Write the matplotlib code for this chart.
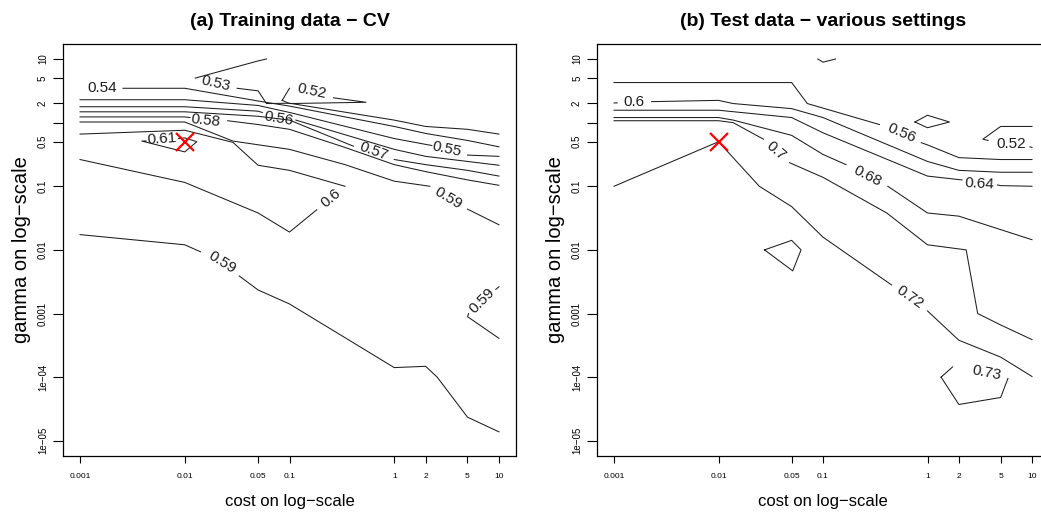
import matplotlib.pyplot as plt
import numpy as np

plt.rcParams['font.family'] = ['Liberation Sans', 'DejaVu Sans']

nan = np.nan

# axis ticks (grid values of the parameter search)
cost_ticks = [0.001, 0.01, 0.05, 0.1, 1, 2, 5, 10]
cost_labels = ['0.001', '0.01', '0.05', '0.1', '1', '2', '5', '10']
gamma_ticks = [1e-5, 1e-4, 1e-3, 0.01, 0.1, 0.5, 1, 2, 5, 10]
gamma_labels = ['1e−05', '1e−04', '0.001', '0.01', '0.1', '0.5', '', '2', '5', '10']

best = (0.01, 0.5)  # selected (cost, gamma), red cross

# contour paths, as log10(cost) / log10(gamma)
# nan marks the gap where the level label sits

# (a) training data - CV
a053_x = [-1.22, -1.30, -1.90, nan, -1.50, -1.30, -1.22, -1.0, 0.0, 0.30, 0.70, 1.0]
a053_y = [1.0, 0.97, 0.70, nan, 0.54, 0.50, 0.30, 0.305, 0.04, -0.06, -0.105, -0.18]
a052_x = [-1.07, -1.0, nan, -0.58, -0.27, -1.0, -1.07]
a052_y = [0.35, 0.54, nan, 0.39, 0.32, 0.30, 0.35]
a054_x = [-2.59, -2.0, -1.30, -1.0, 0.0, 0.30, 0.70, 1.0]
a054_y = [0.54, 0.54, 0.34, 0.26, -0.06, -0.17, -0.28, -0.38]
a055_x = [-3.0, -2.0, -1.30, -1.0, 0.0, 0.36, nan, 0.70, 1.0]
a055_y = [0.36, 0.36, 0.27, 0.16, -0.25, -0.36, nan, -0.51, -0.53]
a056_x = [-3.0, -2.0, -1.30, -1.26, nan, -0.94, 0.0, 0.30, 0.70, 1.0]
a056_y = [0.25, 0.25, 0.18, 0.16, nan, 0.04, -0.42, -0.53, -0.61, -0.67]
a057_x = [-3.0, -2.0, -1.30, -1.0, -0.39, nan, 0.0, 0.30, 0.70, 1.0]
a057_y = [0.17, 0.17, 0.10, 0.04, -0.37, nan, -0.58, -0.66, -0.75, -0.84]
a058_x = [-3.0, -2.0, -1.95, nan, -1.59, -1.30, -1.0, -0.47, 0.0, 0.30, 0.70, 1.0]
a058_y = [0.09, 0.09, 0.08, nan, 0.03, -0.03, -0.105, -0.39, -0.66, -0.77, -0.90, -0.985]
a059_x = [-3.0, -2.0, -1.54, -1.0, -0.47, 0.0, 0.34, nan, 0.70, 1.0]
a059_y = [0.01, 0.01, -0.29, -0.42, -0.66, -0.92, -1.0, nan, -1.36, -1.605]
a060_x = [-3.0, -2.0, -1.30, -1.0, -0.74, nan, -0.47, -1.0, -1.30, -1.54, -2.0, -3.0]
a060_y = [-0.58, -0.94, -1.42, -1.72, -1.37, nan, -1.0, -0.75, -0.67, -0.31, -0.12, -0.18]
a061_x = [-2.06, -2.0, -1.885, -2.0, -2.41, -2.37]
a061_y = [-0.25, -0.24, -0.30, -0.46, -0.29, -0.287]
a059b_x = [-3.0, -2.0, -1.85, nan, -1.48, -1.30, -1.0, 0.0, 0.30, 0.41, 0.70, 1.0]
a059b_y = [-1.76, -1.92, -2.03, nan, -2.41, -2.63, -2.85, -3.85, -3.83, -4.0, -4.63, -4.86]
a059c_x = [1.0, 0.97, nan, 0.71, 0.70, 1.0]
a059c_y = [-2.58, -2.62, nan, -3.0, -3.05, -3.39]

a_paths = [(a053_x, a053_y), (a052_x, a052_y), (a054_x, a054_y), (a055_x, a055_y),
           (a056_x, a056_y), (a057_x, a057_y), (a058_x, a058_y), (a059_x, a059_y),
           (a060_x, a060_y), (a061_x, a061_y), (a059b_x, a059b_y), (a059c_x, a059c_y)]
# label text, log10 cost, log10 gamma, angle
a_labels = [('0.54', -2.79, 0.54, 0), ('0.53', -1.70, 0.61, -13), ('0.52', -0.79, 0.495, -12),
            ('0.56', -1.10, 0.07, -10), ('0.58', -1.80, 0.04, -6), ('0.57', -0.20, -0.45, -20),
            ('0.55', 0.505, -0.42, -12), ('0.59', 0.515, -1.18, -31), ('0.6', -0.60, -1.18, 40),
            ('0.61', -2.22, -0.26, 4), ('0.59', -1.64, -2.20, -32), ('0.59', 0.84, -2.80, 45)]

# (b) test data - various settings
b056_x = [-3.0, -1.30, -1.15, -0.46, nan, -0.06, 0.0, 0.30, 0.70, 1.0]
b056_y = [0.63, 0.63, 0.30, -0.03, nan, -0.315, -0.35, -0.55, -0.58, -0.58]
b060_x = [-3.0, -2.97, nan, -2.64, -2.0, -1.86, -1.30, -1.0, 0.0, 0.30, 0.70, 1.0]
b060_y = [0.31, 0.31, nan, 0.33, 0.35, 0.30, 0.22, 0.08, -0.61, -0.75, -0.78, -0.78]
b064_x = [-3.0, -2.0, -1.30, -1.0, 0.0, 0.30, 0.33, nan, 0.67, 0.70, 1.0]
b064_y = [0.195, 0.195, 0.08, -0.16, -0.84, -0.895, -0.90, nan, -0.98, -0.99, -1.0]
b068_x = [-3.0, -2.0, -1.86, -1.30, -1.0, -0.78, nan, -0.38, 0.0, 0.30, 1.0]
b068_y = [0.08, 0.08, 0.04, -0.20, -0.50, -0.66, nan, -1.0, -1.42, -1.47, -1.84]
b070_x = [-3.0, -2.0, -1.86, -1.57, nan, -1.32, -1.0, -0.39, 0.0, 0.37, 0.48, 0.70, 1.0]
b070_y = [0.03, 0.03, 0.0, -0.26, nan, -0.63, -0.86, -1.42, -1.92, -2.0, -3.0, -3.18, -3.41]
b072_x = [-3.0, -2.0, -1.61, -1.30, -1.0, -0.345, nan, 0.0, 0.30, 0.70, 1.0]
b072_y = [-1.0, -0.30, -1.0, -1.32, -1.80, -2.55, nan, -2.96, -3.42, -3.685, -3.99]
b052_x = [1.0, 0.70, 0.53, 0.58, nan, 0.98, 1.0]
b052_y = [-0.06, -0.06, -0.26, -0.28, nan, -0.38, -0.39]
b_diam_x = [-0.12, 0.0, 0.21, 0.0, -0.12]
b_diam_y = [0.01, 0.116, 0.01, -0.08, 0.01]
b_top_x = [-1.05, -1.0, -0.88]
b_top_y = [1.0, 0.95, 1.0]
b_quad_x = [-1.56, -1.30, -1.21, -1.29, -1.56]
b_quad_y = [-2.0, -1.85, -2.0, -2.33, -2.0]
b073_x = [0.13, 0.24, nan, 0.77, 0.70, 0.30, 0.13]
b073_y = [-4.0, -3.84, nan, -4.02, -4.32, -4.43, -4.0]

b_paths = [(b056_x, b056_y), (b060_x, b060_y), (b064_x, b064_y), (b068_x, b068_y),
           (b070_x, b070_y), (b072_x, b072_y), (b052_x, b052_y), (b_diam_x, b_diam_y),
           (b_top_x, b_top_y), (b_quad_x, b_quad_y), (b073_x, b073_y)]
b_labels = [('0.6', -2.81, 0.32, 0), ('0.56', -0.25, -0.17, -23), ('0.52', 0.80, -0.34, 0),
            ('0.7', -1.45, -0.45, -41), ('0.68', -0.58, -0.84, -27), ('0.64', 0.50, -0.96, -3),
            ('0.72', -0.17, -2.74, -35), ('0.73', 0.57, -3.94, -11)]


def draw_panel(ax, paths, labels, title):
    for px, py in paths:
        ax.plot(10 ** np.array(px), 10 ** np.array(py), color='#1e1e1e', lw=0.75)
    for txt, lx, ly, rot in labels:
        ax.text(10 ** lx, 10 ** ly, txt, fontsize=11, rotation=rot,
                rotation_mode='anchor', ha='center', va='center', color='#1e1e1e')
    ax.plot(best[0], best[1], 'x', color='red', ms=13, mew=1.6)

    ax.set_xscale('log')
    ax.set_yscale('log')
    ax.set_xlim(10 ** -3.16, 10 ** 1.16)
    ax.set_ylim(10 ** -5.24, 10 ** 1.24)
    ax.set_xticks(cost_ticks, cost_labels)
    ax.set_yticks(gamma_ticks, gamma_labels)
    ax.minorticks_off()
    ax.tick_params(axis='x', length=5, width=0.8, pad=7, labelsize=6)
    ax.tick_params(axis='y', length=7, width=0.8, pad=4, labelsize=7, labelrotation=90)
    for lbl in ax.get_yticklabels():
        lbl.set_va('center')
    for sp in ax.spines.values():
        sp.set_linewidth(0.9)

    ax.set_xlabel('cost on log−scale', fontsize=12)
    ax.xaxis.set_label_coords(0.5, -0.111)
    ax.xaxis.label.set_va('center')
    ax.set_ylabel('gamma on log−scale', fontsize=14.5)
    ax.yaxis.set_label_coords(-0.093, 0.5)
    ax.yaxis.label.set_va('center')
    ax.set_title(title, fontsize=14, fontweight='bold', pad=13)


fig = plt.figure(figsize=(10.41, 5.14), dpi=100)
ax1 = fig.add_axes([0.0608, 0.1128, 0.4346, 0.8021])
ax2 = fig.add_axes([0.5738, 0.1128, 0.4336, 0.8021])

draw_panel(ax1, a_paths, a_labels, '(a) Training data − CV')
draw_panel(ax2, b_paths, b_labels, '(b) Test data − various settings')

fig.savefig('out.png', dpi=100)
